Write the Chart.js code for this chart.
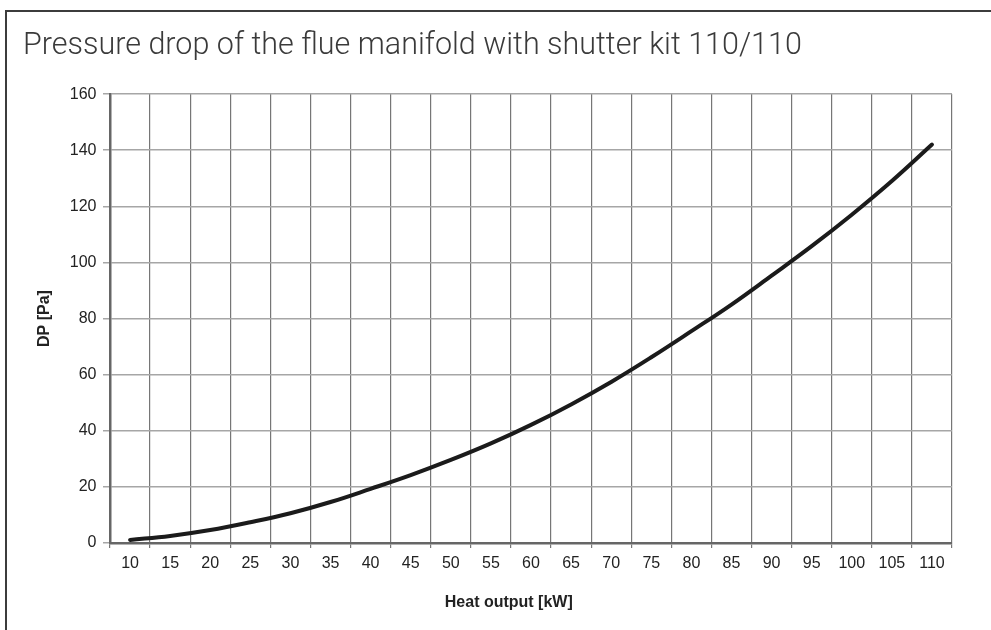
<!DOCTYPE html>
<html>
<head>
<meta charset="utf-8">
<script src="https://cdn.jsdelivr.net/npm/chart.js@4.4.1/dist/chart.umd.min.js"></script>
<style>
    html, body { margin: 0; padding: 0; background: #fff; overflow: hidden; }
    .frame {
        position: absolute; left: 5px; top: 10px; width: 1000px; height: 700px;
        border-left: 2px solid #3c3c3c; border-top: 2px solid #3c3c3c;
    }
    .wrap { position: absolute; left: 0; top: 0; width: 991px; height: 630px; }
</style>
</head>
<body>
<div class="frame"></div>
<div class="wrap"><canvas id="dpChart"></canvas></div>
<script>
// Heat output categories (kW) and pressure drop (Pa)
const heatOutput = ['10', '15', '20', '25', '30', '35', '40', '45', '50', '55', '60',
                    '65', '70', '75', '80', '85', '90', '95', '100', '105', '110'];
const pressureDrop = [1.1, 2.5, 4.6, 7.4, 10.6, 14.6, 19.3, 24.2, 29.6, 35.5, 42.1,
                      49.4, 57.4, 66.2, 75.5, 85.0, 95.3, 105.8, 117.0, 129.0, 142.0];
const dpMin = 0;
const dpMax = 160;
const dpStep = 20;

document.addEventListener("DOMContentLoaded", () => {
    const ctx = document.getElementById('dpChart');
    new Chart(ctx, {
        type: 'line',
        data: {
            labels: heatOutput,
            datasets: [{
                label: 'DP',
                data: pressureDrop,
                borderColor: '#1b1b1b',
                borderWidth: 4,
                borderCapStyle: 'round',
                pointRadius: 0,
                fill: false,
                tension: 0.4
            }]
        },
        options: {
            responsive: true,
            maintainAspectRatio: false,
            animation: false,
            layout: {
                padding: { left: 23, right: 39, top: 28, bottom: 0 }
            },
            plugins: {
                legend: { display: false },
                tooltip: { enabled: false },
                title: {
                    display: true,
                    text: 'Pressure drop of the flue manifold with shutter kit 110/110',
                    align: 'start',
                    color: '#3a3a3a',
                    font: { family: 'Roboto', size: 30.5, weight: '300' },
                    padding: { top: 0, bottom: 29.5 }
                }
            },
            scales: {
                x: {
                    type: 'category',
                    offset: true,
                    grid: {
                        offset: true,
                        color: '#767676',
                        lineWidth: 1.2,
                        tickLength: 5
                    },
                    border: { color: '#666', width: 2.5 },
                    ticks: {
                        color: '#222',
                        font: { family: 'Liberation Sans', size: 16 },
                        padding: 6,
                        maxRotation: 0,
                        autoSkip: false
                    },
                    title: {
                        display: true,
                        text: 'Heat output [kW]' + '\u00a0'.repeat(10),
                        color: '#222',
                        font: { family: 'Liberation Sans', size: 16, weight: 'bold' },
                        padding: { top: 0, bottom: 17.5 }
                    },
                    afterFit: (scale) => { scale.height = 87; }
                },
                y: {
                    min: dpMin,
                    max: dpMax,
                    ticks: {
                        stepSize: dpStep,
                        color: '#222',
                        font: { family: 'Liberation Sans', size: 16 },
                        padding: 6.5
                    },
                    grid: {
                        color: '#a6a6a6',
                        lineWidth: 1.5,
                        tickLength: 7
                    },
                    border: { color: '#666', width: 2.5 },
                    title: {
                        display: true,
                        text: 'DP [Pa]',
                        color: '#222',
                        font: { family: 'Liberation Sans', size: 16, weight: 'bold' },
                        padding: { top: 11.5, bottom: 0 }
                    },
                    afterFit: (scale) => { scale.width = 87; }
                }
            }
        }
    });
});
</script>
</body>
</html>
